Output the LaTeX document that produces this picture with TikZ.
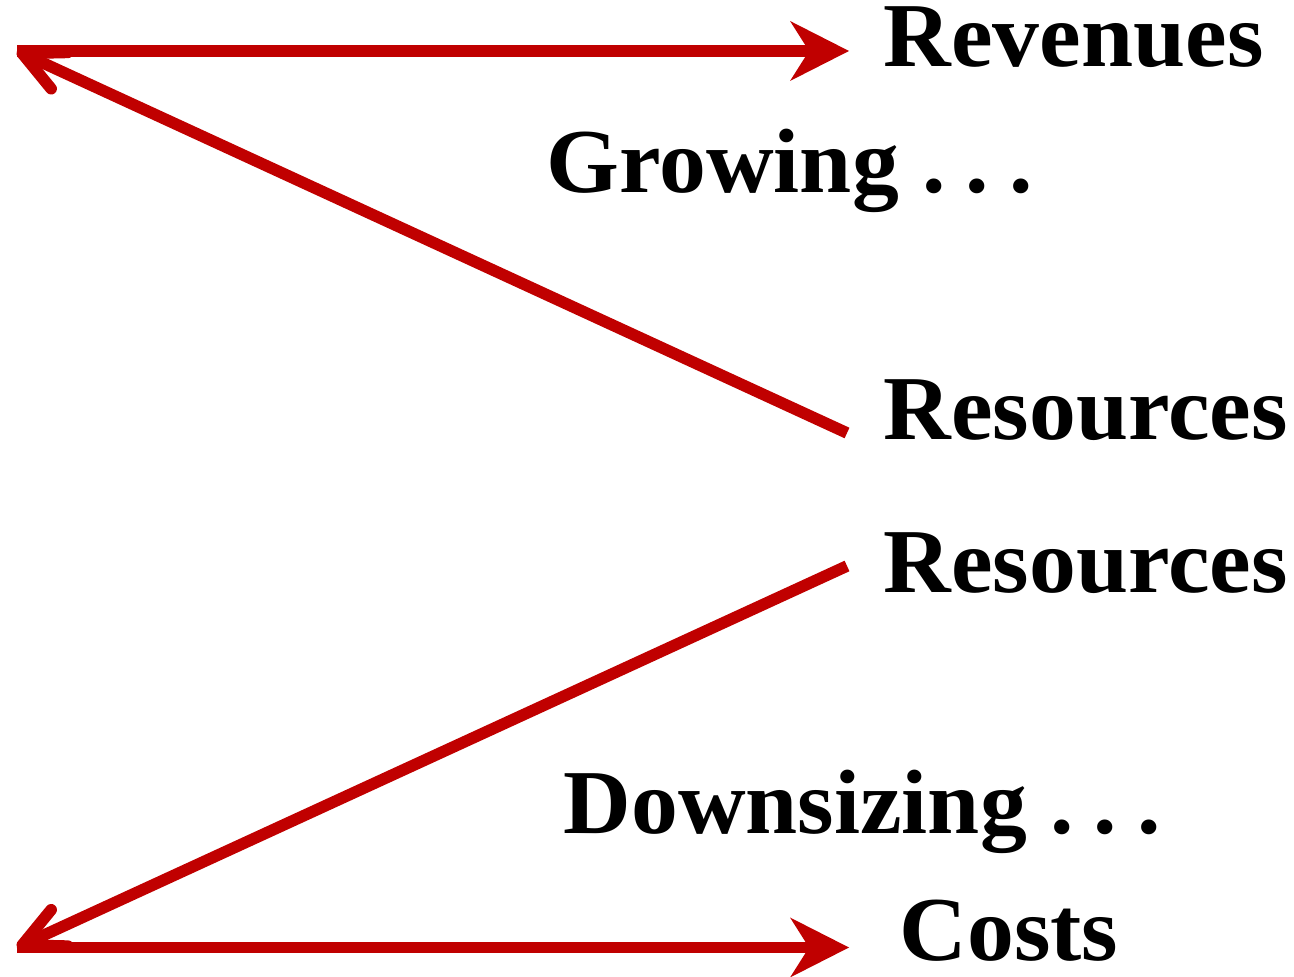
\documentclass[tikz,border=0pt]{standalone}
\usepackage{fontspec}
\setmainfont[FakeStretch=1.025]{Liberation Serif}
\usetikzlibrary{arrows.meta}
\definecolor{darkred}{RGB}{192,0,0}
\newcommand{\spdots}{.\kern0.22em.\kern0.22em.}

\begin{document}
\begin{tikzpicture}
[lbl/.style={anchor=base west,inner sep=0pt,font=\fontsize{26}{30}\selectfont\bfseries}
,link/.style={draw=darkred,line width=3.3pt}
,push/.style={link,arrows={-Stealth[length=5.9mm,width=6mm,inset=1.9mm,line width=0pt]}}
,pull/.style={link,arrows={-Straight Barb[length=4.1mm,width=4mm,round]}}
]
\useasboundingbox (0,0) rectangle (12.94,-9.77);
\coordinate (tl) at (0.17,-0.51);
\coordinate (tr) at (8.49,-0.51);
\coordinate (ur) at (8.47,-4.33);
\coordinate (lr) at (8.47,-5.66);
\coordinate (bl) at (0.17,-9.475);
\coordinate (br) at (8.49,-9.475);
\node[lbl] (rev) at (8.83,-0.67) {Revenues};
\node[lbl] (grow) at (5.46,-1.93) {Growing \spdots};
\node[lbl] (res1) at (8.83,-4.40) {Resources};
\node[lbl] (res2) at (8.83,-5.93) {Resources};
\node[lbl] (down) at (5.63,-8.33) {Downsizing \spdots};
\node[lbl] (cost) at (8.99,-9.60) {Costs};
\draw[push] (tl) -- (tr);
\draw[pull] (ur) -- (tl);
\draw[pull] (lr) -- (bl);
\draw[push] (bl) -- (br);
\end{tikzpicture}
\end{document}
